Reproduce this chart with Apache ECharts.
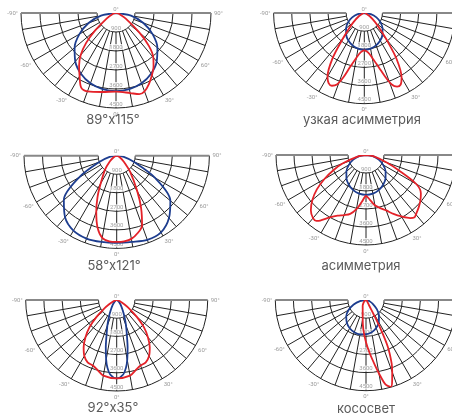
<!DOCTYPE html>
<html>
<head>
<meta charset="utf-8">
<script src="https://cdn.jsdelivr.net/npm/echarts@6/dist/echarts.min.js"></script>
<style>
html, body { margin: 0; padding: 0; background: #fff; }
#main { width: 452px; height: 416px; }
</style>
</head>
<body>
<div id="main"></div>
<script>
// подписи диаграмм
var captions = ['89°x115°', 'узкая асимметрия', '58°x121°', 'асимметрия', '92°x35°', 'кососвет'];
// кольца (кд)
var ringValues = [900, 1800, 2700, 3600, 4500];
// углы через 10°
var angles10 = [-90, -80, -70, -60, -50, -40, -30, -20, -10, 0, 10, 20, 30, 40, 50, 60, 70, 80, 90];

// 1: 89x115
var blue1 = [0, 720, 1380, 2000, 2560, 3000, 3320, 3540, 3660, 3700, 3660, 3540, 3320, 3000, 2560, 2000, 1380, 720, 0];
var redAngles1 = [-90, -80, -70, -60, -50, -45, -40, -35, -30, -25, -20, -10, 0, 10, 16, 20, 25, 30, 35, 40, 45, 50, 60, 70, 80, 90];
var red1 = [0, 60, 200, 500, 1300, 2000, 2600, 3050, 3450, 3900, 3950, 3800, 3720, 3850, 4000, 3950, 3700, 3400, 3100, 2750, 2200, 1450, 550, 200, 60, 0];

// 2: узкая асимметрия
var blue2 = [0, 330, 640, 930, 1180, 1400, 1580, 1710, 1790, 1820, 1790, 1710, 1580, 1400, 1180, 930, 640, 330, 0];
var redAngles2 = [-90, -80, -70, -60, -50, -45, -40, -35, -30, -27, -24, -21, -18, -15, -10, -5, 0, 5, 10, 15, 18, 21, 24, 27, 30, 35, 40, 45, 50, 60, 70, 80, 90];
var red2 = [0, 30, 100, 300, 700, 1050, 1650, 2750, 3650, 3900, 3950, 3800, 3350, 2800, 2250, 1950, 1850, 1950, 2250, 2800, 3300, 3800, 4000, 3980, 3700, 2800, 1700, 1050, 700, 300, 100, 30, 0];

// 3: 58x121
var blue3 = [0, 350, 900, 2100, 3350, 3900, 4200, 4280, 4250, 4230, 4250, 4350, 4300, 3950, 3400, 2150, 900, 350, 0];
var redAngles3 = [-90, -70, -60, -50, -40, -30, -25, -20, -15, -10, -5, 0, 5, 10, 15, 20, 25, 30, 40, 50, 60, 70, 90];
var red3 = [0, 80, 200, 450, 880, 1550, 2200, 2900, 3600, 4050, 4170, 4180, 4170, 4100, 3900, 3600, 2800, 2000, 1000, 450, 200, 80, 0];

// 4: асимметрия
var blue4 = [0, 340, 680, 990, 1280, 1520, 1720, 1870, 1960, 1990, 1960, 1870, 1720, 1520, 1280, 990, 680, 340, 0];
var redAngles4 = [-90, -80, -70, -65, -60, -55, -50, -45, -40, -37, -35, -30, -25, -20, -15, -10, -5, 0, 5, 10, 15, 20, 25, 30, 35, 38, 40, 45, 50, 55, 60, 65, 70, 80, 90];
var red4 = [0, 400, 1250, 1800, 2400, 3000, 3500, 3900, 4120, 4120, 4000, 3600, 3350, 3200, 3050, 2750, 2350, 2050, 2250, 2550, 2750, 2950, 3250, 3550, 3850, 3950, 3880, 3720, 3550, 3350, 2900, 1800, 1100, 400, 0];

// 5: 92x35
var blueAngles5 = [-90, -60, -50, -40, -30, -25, -20, -15, -13, -10, -8, -5, 0, 5, 8, 10, 13, 15, 20, 25, 30, 40, 50, 60, 90];
var blue5 = [0, 70, 150, 300, 600, 900, 1350, 2000, 2400, 3000, 3350, 3700, 3880, 3700, 3350, 3000, 2400, 2000, 1350, 900, 600, 300, 150, 70, 0];
var redAngles5 = [-90, -80, -70, -60, -55, -50, -45, -40, -35, -30, -25, -20, -15, -10, 0, 10, 15, 20, 25, 30, 35, 40, 45, 50, 55, 60, 70, 80, 90];
var red5 = [0, 40, 150, 450, 800, 1300, 1900, 2400, 2850, 3200, 3400, 3450, 3600, 3800, 3880, 3800, 3600, 3450, 3400, 3200, 2850, 2400, 1900, 1300, 800, 450, 150, 40, 0];

// 6: кососвет
var blue6 = [0, 300, 650, 1000, 1280, 1480, 1620, 1700, 1730, 1700, 1620, 1480, 1270, 1000, 700, 400, 200, 80, 0];
var redAngles6 = [-90, -60, -40, -30, -20, -14, -10, -5, 0, 4, 8, 10, 13, 16, 18, 20, 22, 25, 27, 28, 30, 40, 60, 90];
var red6 = [0, 80, 200, 330, 480, 680, 950, 1490, 2100, 2650, 3300, 3700, 4300, 4480, 4200, 3800, 3400, 2550, 1500, 800, 300, 100, 40, 0];

var blueAngles = [angles10, angles10, angles10, angles10, blueAngles5, angles10];
var blueValues = [blue1, blue2, blue3, blue4, blue5, blue6];
var redAngles = [redAngles1, redAngles2, redAngles3, redAngles4, redAngles5, redAngles6];
var redValues = [red1, red2, red3, red4, red5, red6];

// расположение диаграмм
var centers = [[116, 13], [364.3, 13], [116.7, 155.7], [366, 155], [116.7, 300], [366, 300]];
var radii = [95, 90.7, 92.7, 90, 91, 90.7];
var captionPos = [[113, 114], [362, 114], [114, 260], [361, 260], [113, 402], [366, 403]];

function pairs(angles, values) {
	return angles.map(function(a, k) {
		return [values[k], a];
	});
}

// лучи сетки от первого кольца до внешнего
function renderRay(params, api) {
	var a = api.value(1);
	var p1 = api.coord([ringValues[0], a]);
	var p2 = api.coord([ringValues[ringValues.length - 1], a]);
	var edge = Math.abs(a) === 90;
	return {
		type: 'line',
		shape: { x1: p1[0], y1: p1[1], x2: p2[0], y2: p2[1] },
		style: { stroke: edge ? '#888' : '#222', lineWidth: edge ? 2 : 1 },
		z2: edge ? 2 : 1
	};
}

var myChart = echarts.init(document.getElementById('main'));

var polar = [], angleAxis = [], radiusAxis = [], series = [], title = [];
for (var i = 0; i < 6; i++) {
	polar.push({
		center: centers[i],
		radius: radii[i]
	});
	angleAxis.push({
		polarIndex: i,
		type: 'value',
		min: -90,
		max: 90,
		interval: 10,
		startAngle: 180,
		endAngle: 360,
		clockwise: false,
		axisLine: { show: false },
		axisTick: { show: false },
		axisLabel: {
			margin: 3,
			fontSize: 6,
			color: '#999',
			fontFamily: 'Roboto',
			formatter: function(v) {
				return v % 30 === 0 ? v + '°' : '';
			}
		},
		splitLine: { show: false }
	});
	radiusAxis.push({
		polarIndex: i,
		type: 'value',
		min: 0,
		max: 4500,
		interval: 900,
		axisLine: { show: false },
		axisTick: { show: false },
		axisLabel: { show: false },
		splitLine: { show: true, lineStyle: { color: '#222', width: 1 } }
	});
	series.push({
		type: 'custom',
		coordinateSystem: 'polar',
		polarIndex: i,
		silent: true,
		renderItem: renderRay,
		data: angles10.map(function(a) { return [ringValues[ringValues.length - 1], a]; })
	});
	// подписи колец
	series.push({
		type: 'scatter',
		coordinateSystem: 'polar',
		polarIndex: i,
		silent: true,
		clip: false,
		symbolSize: 0,
		label: {
			show: true,
			position: 'top',
			distance: 1,
			fontSize: 6,
			color: '#888',
			fontFamily: 'Roboto',
			backgroundColor: '#fff',
			padding: [0, 1],
			formatter: function(p) {
				return p.value[0] === 0 ? '0°' : String(p.value[0]);
			}
		},
		data: [[0, 0]].concat(ringValues.map(function(v) { return [v, 0]; }))
	});
	series.push({
		type: 'line',
		coordinateSystem: 'polar',
		polarIndex: i,
		silent: true,
		showSymbol: false,
		smooth: 0.3,
		clip: false,
		lineStyle: { color: '#1d3d8f', width: 1.8 },
		data: pairs(blueAngles[i], blueValues[i])
	});
	series.push({
		type: 'line',
		coordinateSystem: 'polar',
		polarIndex: i,
		silent: true,
		showSymbol: false,
		smooth: 0.3,
		clip: false,
		lineStyle: { color: '#e42229', width: 1.8 },
		data: pairs(redAngles[i], redValues[i])
	});
	title.push({
		text: captions[i],
		left: captionPos[i][0],
		top: captionPos[i][1],
		textAlign: 'center',
		padding: 0,
		textStyle: { fontSize: 13, fontWeight: 'normal', color: '#5a5a5a', fontFamily: 'Inter' }
	});
}

var option = {
	animation: false,
	title: title,
	polar: polar,
	angleAxis: angleAxis,
	radiusAxis: radiusAxis,
	series: series
};
myChart.setOption(option);
</script>
</body>
</html>
